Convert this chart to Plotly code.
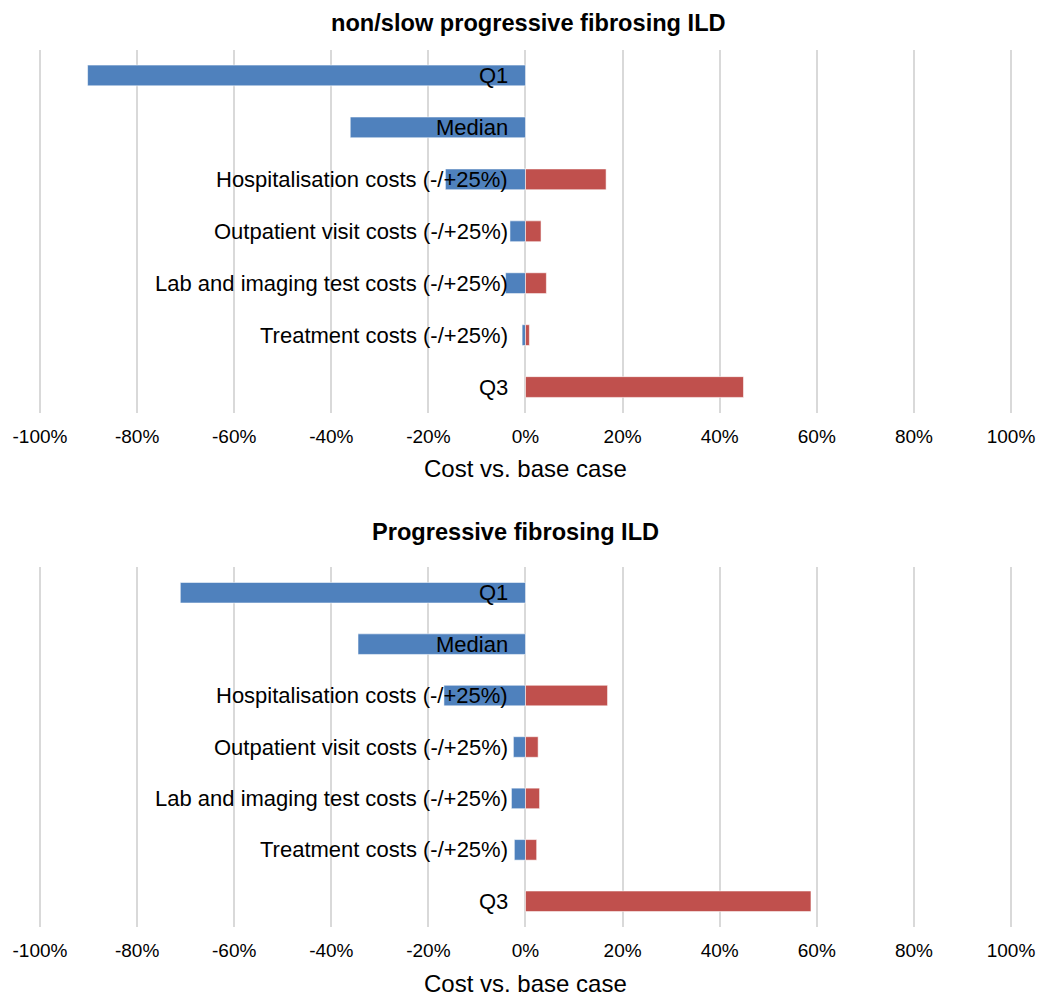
import plotly.graph_objects as go

categories = ["Q1", "Median", "Hospitalisation costs (-/+25%)", "Outpatient visit costs (-/+25%)",
              "Lab and imaging test costs (-/+25%)", "Treatment costs (-/+25%)", "Q3"]

top_title = "non/slow progressive fibrosing ILD"
top_low = [-0.902, -0.361, -0.165, -0.032, -0.041, -0.007, None]
top_high = [None, None, 0.166, 0.032, 0.043, 0.008, 0.449]

bot_title = "Progressive fibrosing ILD"
bot_low = [-0.711, -0.345, -0.168, -0.025, -0.029, -0.023, None]
bot_high = [None, None, 0.169, 0.026, 0.029, 0.023, 0.588]

tick_vals = [-1.0, -0.8, -0.6, -0.4, -0.2, 0.0, 0.2, 0.4, 0.6, 0.8, 1.0]
tick_text = ["-100%", "-80%", "-60%", "-40%", "-20%", "0%", "20%", "40%", "60%", "80%", "100%"]
axis_title = "Cost vs. base case"

BLUE = "#4F81BD"
RED = "#C0504D"
FONT = "Liberation Sans, Arial, sans-serif"
W, H = 1037, 997

fig = go.Figure()

# (title, low, high, xaxis, yaxis, plot top/bottom px, title x px, title y px, axis-title y px)
panels = [
    (top_title, top_low, top_high, "x", "y", (49.5, 413.0), 528.5, 23, 469),
    (bot_title, bot_low, bot_high, "x2", "y2", (567.0, 927.0), 515, 532, 983),
]

R = 1.006
annotations = []
for i, (title, low, high, xa, ya, (ptop, pbot), tx, ty, aty) in enumerate(panels):
    fig.add_trace(go.Bar(y=categories, x=low, orientation="h",
                         marker=dict(color=BLUE, line=dict(color="rgba(255,255,255,0.55)", width=1)),
                         width=0.4, xaxis=xa, yaxis=ya, showlegend=False, hoverinfo="skip"))
    fig.add_trace(go.Bar(y=categories, x=high, orientation="h",
                         marker=dict(color=RED, line=dict(color="rgba(255,255,255,0.55)", width=1)),
                         width=0.4, xaxis=xa, yaxis=ya, showlegend=False, hoverinfo="skip"))
    for c in categories:
        annotations.append(dict(x=0, y=c, xref=xa, yref=ya, text=c, showarrow=False,
                                xanchor="right", yanchor="middle", xshift=-15,
                                font=dict(family=FONT, size=22, color="#000000")))
    annotations.append(dict(x=tx / W, y=1 - ty / H, xref="paper", yref="paper", text="<b>" + title + "</b>",
                            showarrow=False, xanchor="center", yanchor="middle",
                            font=dict(family=FONT, size=23.6, color="#000000")))
    annotations.append(dict(x=525.5 / W, y=1 - aty / H, xref="paper", yref="paper", text=axis_title,
                            showarrow=False, xanchor="center", yanchor="middle", borderpad=0,
                            font=dict(family=FONT, size=24, color="#000000")))
    xkey = "xaxis" if i == 0 else "xaxis2"
    ykey = "yaxis" if i == 0 else "yaxis2"
    # -100% at 40 px, +100% at 1011 px
    x0px, x1px = 40.0, 1011.0
    half = (x1px - x0px) / 2
    fig.update_layout(**{
        xkey: dict(domain=[(x0px - (R - 1) * half) / W, (x1px + (R - 1) * half) / W], range=[-R, R],
                   tickvals=tick_vals, ticktext=tick_text,
                   showgrid=True, gridcolor="#D9D9D9", gridwidth=2, zeroline=False, showline=False,
                   ticks="", ticklabelstandoff=10, automargin=False,
                   tickfont=dict(family=FONT, size=19, color="#000000"),
                   anchor=ya, fixedrange=True),
        ykey: dict(domain=[1 - pbot / H, 1 - ptop / H], categoryorder="array", categoryarray=categories,
                   autorange="reversed", showticklabels=False, showgrid=False, zeroline=False,
                   showline=False, ticks="", automargin=False, anchor=xa, fixedrange=True),
    })

fig.update_layout(
    width=W, height=H, barmode="overlay",
    margin=dict(l=0, r=0, t=0, b=0, autoexpand=False),
    paper_bgcolor="white", plot_bgcolor="white",
    annotations=annotations, showlegend=False, hovermode=False,
)

fig.write_html("out.html", config={"displayModeBar": False},
               post_script="document.body.style.margin='0';document.body.style.overflow='hidden';")
